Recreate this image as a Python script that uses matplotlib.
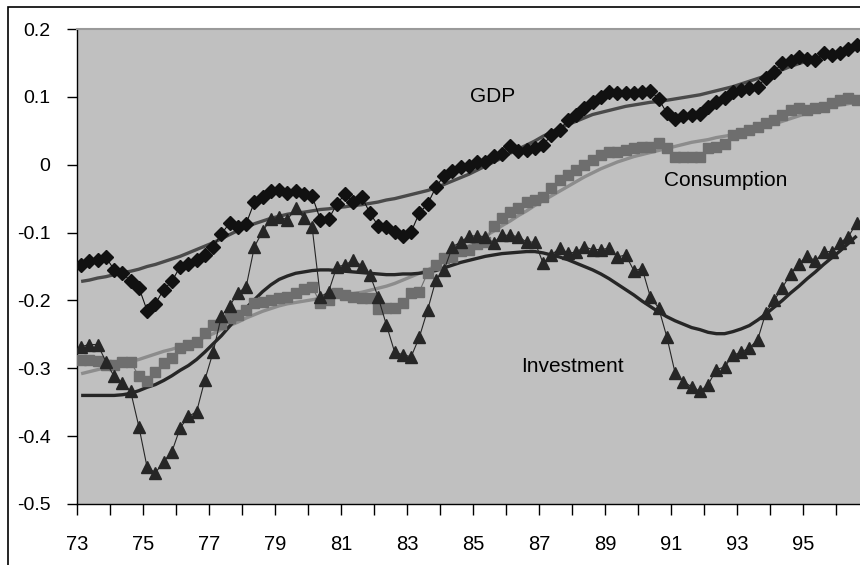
import numpy as np
import matplotlib
matplotlib.use("Agg")
import matplotlib.pyplot as plt
from matplotlib import font_manager
from matplotlib.patches import Rectangle

# ---------------- data ----------------
start_year = 73
n_quarters = 95

gdp = [-0.148, -0.142, -0.140, -0.136, -0.155, -0.159, -0.172, -0.181, -0.215, -0.205,
       -0.184, -0.172, -0.150, -0.146, -0.140, -0.133, -0.121, -0.102, -0.086, -0.092,
       -0.087, -0.055, -0.047, -0.039, -0.037, -0.042, -0.039, -0.043, -0.046, -0.081,
       -0.080, -0.058, -0.043, -0.055, -0.047, -0.071, -0.090, -0.092, -0.099, -0.105,
       -0.099, -0.071, -0.058, -0.033, -0.016, -0.009, -0.003, -0.002, 0.004, 0.004,
       0.013, 0.016, 0.028, 0.020, 0.022, 0.025, 0.029, 0.044, 0.051, 0.066,
       0.073, 0.084, 0.092, 0.100, 0.107, 0.106, 0.106, 0.106, 0.107, 0.109,
       0.097, 0.076, 0.068, 0.072, 0.073, 0.075, 0.085, 0.092, 0.098, 0.107,
       0.110, 0.113, 0.115, 0.128, 0.137, 0.150, 0.153, 0.159, 0.156, 0.154,
       0.165, 0.162, 0.165, 0.171, 0.176]

consumption = [-0.288, -0.288, -0.289, -0.295, -0.295, -0.290, -0.290, -0.312, -0.318, -0.305,
               -0.292, -0.285, -0.270, -0.266, -0.261, -0.248, -0.236, -0.234, -0.226, -0.221,
               -0.214, -0.204, -0.202, -0.199, -0.196, -0.195, -0.189, -0.183, -0.180, -0.204,
               -0.199, -0.189, -0.192, -0.195, -0.196, -0.196, -0.212, -0.211, -0.211, -0.204,
               -0.189, -0.187, -0.159, -0.148, -0.137, -0.136, -0.127, -0.126, -0.117, -0.114,
               -0.090, -0.078, -0.070, -0.064, -0.055, -0.052, -0.047, -0.034, -0.022, -0.015,
               -0.008, 0.000, 0.007, 0.014, 0.019, 0.019, 0.022, 0.025, 0.026, 0.026,
               0.032, 0.025, 0.011, 0.011, 0.011, 0.011, 0.025, 0.026, 0.031, 0.044,
               0.047, 0.051, 0.056, 0.062, 0.066, 0.073, 0.081, 0.084, 0.081, 0.084,
               0.085, 0.091, 0.095, 0.098, 0.095]

investment = [-0.268, -0.265, -0.265, -0.290, -0.312, -0.321, -0.334, -0.386, -0.446, -0.454,
              -0.438, -0.423, -0.388, -0.371, -0.364, -0.317, -0.276, -0.223, -0.208, -0.189,
              -0.180, -0.121, -0.098, -0.080, -0.077, -0.081, -0.064, -0.078, -0.092, -0.195,
              -0.187, -0.150, -0.148, -0.140, -0.149, -0.162, -0.195, -0.236, -0.276, -0.280,
              -0.283, -0.254, -0.214, -0.170, -0.155, -0.121, -0.114, -0.105, -0.105, -0.106,
              -0.115, -0.104, -0.104, -0.106, -0.114, -0.114, -0.145, -0.133, -0.123, -0.130,
              -0.129, -0.121, -0.125, -0.125, -0.123, -0.136, -0.133, -0.156, -0.153, -0.195,
              -0.211, -0.254, -0.307, -0.320, -0.327, -0.334, -0.324, -0.302, -0.298, -0.281,
              -0.276, -0.270, -0.258, -0.218, -0.200, -0.181, -0.161, -0.146, -0.134, -0.142,
              -0.128, -0.128, -0.115, -0.106, -0.086]

gdp_trend = [-0.172, -0.170, -0.167, -0.165, -0.162, -0.159, -0.157, -0.154, -0.150, -0.147,
             -0.143, -0.139, -0.135, -0.130, -0.125, -0.120, -0.115, -0.109, -0.103, -0.097,
             -0.092, -0.087, -0.083, -0.079, -0.076, -0.073, -0.071, -0.070, -0.068, -0.066,
             -0.065, -0.063, -0.062, -0.060, -0.059, -0.057, -0.055, -0.052, -0.050, -0.047,
             -0.044, -0.041, -0.038, -0.034, -0.029, -0.024, -0.019, -0.014, -0.008, -0.002,
             0.004, 0.010, 0.017, 0.023, 0.029, 0.035, 0.042, 0.048, 0.054, 0.059,
             0.064, 0.069, 0.074, 0.077, 0.080, 0.083, 0.086, 0.088, 0.090, 0.092,
             0.093, 0.095, 0.097, 0.099, 0.101, 0.103, 0.106, 0.109, 0.112, 0.115,
             0.119, 0.123, 0.127, 0.131, 0.136, 0.140, 0.145, 0.149, 0.153, 0.157,
             0.160, 0.163, 0.166, 0.169, 0.172]

consumption_trend = [-0.308, -0.305, -0.302, -0.299, -0.296, -0.293, -0.290, -0.287, -0.283, -0.279,
                     -0.275, -0.272, -0.268, -0.264, -0.259, -0.254, -0.249, -0.243, -0.237, -0.232,
                     -0.226, -0.221, -0.216, -0.212, -0.208, -0.205, -0.203, -0.201, -0.199, -0.197,
                     -0.196, -0.194, -0.192, -0.190, -0.188, -0.185, -0.182, -0.179, -0.175, -0.170,
                     -0.165, -0.160, -0.155, -0.149, -0.142, -0.135, -0.128, -0.120, -0.113, -0.105,
                     -0.098, -0.090, -0.083, -0.075, -0.068, -0.060, -0.053, -0.046, -0.039, -0.032,
                     -0.025, -0.018, -0.012, -0.006, -0.001, 0.004, 0.008, 0.012, 0.015, 0.018,
                     0.021, 0.024, 0.027, 0.030, 0.033, 0.035, 0.037, 0.040, 0.042, 0.044,
                     0.047, 0.050, 0.053, 0.056, 0.060, 0.064, 0.068, 0.072, 0.076, 0.080,
                     0.083, 0.086, 0.088, 0.090, 0.092]

investment_trend = [-0.340, -0.340, -0.340, -0.340, -0.340, -0.339, -0.337, -0.333, -0.328, -0.324,
                    -0.318, -0.311, -0.303, -0.296, -0.287, -0.276, -0.264, -0.252, -0.238, -0.224,
                    -0.211, -0.199, -0.187, -0.177, -0.169, -0.164, -0.160, -0.158, -0.156, -0.155,
                    -0.155, -0.156, -0.157, -0.158, -0.159, -0.160, -0.161, -0.162, -0.162, -0.161,
                    -0.161, -0.160, -0.158, -0.156, -0.152, -0.148, -0.144, -0.141, -0.138, -0.135,
                    -0.133, -0.131, -0.130, -0.129, -0.128, -0.128, -0.130, -0.133, -0.136, -0.140,
                    -0.145, -0.150, -0.155, -0.161, -0.168, -0.176, -0.184, -0.192, -0.201, -0.209,
                    -0.217, -0.224, -0.230, -0.235, -0.240, -0.243, -0.247, -0.249, -0.249, -0.246,
                    -0.242, -0.237, -0.229, -0.220, -0.210, -0.200, -0.189, -0.179, -0.168, -0.158,
                    -0.147, -0.137, -0.127, -0.116, -0.105]

year_ticks = list(range(73, 97))
year_labels = [str(y) for y in range(73, 96, 2)]
y_ticks = [-0.5, -0.4, -0.3, -0.2, -0.1, 0.0, 0.1, 0.2]
y_labels = ["-0.5", "-0.4", "-0.3", "-0.2", "-0.1", "0", "0.1", "0.2"]

# ---------------- fonts ----------------
names = {f.name for f in font_manager.fontManager.ttflist}
base_font = "Liberation Sans" if "Liberation Sans" in names else "DejaVu Sans"
plt.rcParams["font.family"] = [base_font, "DejaVu Sans"]

# ---------------- figure ----------------
W, H = 860, 565
fig = plt.figure(figsize=(W / 100, H / 100), dpi=100)
fig.patch.set_facecolor("white")

left, right, top, bottom = 77, 860, 29, 504
ax = fig.add_axes([left / W, 1 - bottom / H, (right - left) / W, (bottom - top) / H])
ax.set_facecolor("#c0c0c0")

x = start_year + (np.arange(n_quarters) + 0.5) / 4.0

# trend lines
ax.plot(x, consumption_trend, color="#8c8c8c", lw=2.4, zorder=2, solid_capstyle="butt")
ax.plot(x, gdp_trend, color="#4a4a4a", lw=2.4, zorder=2, solid_capstyle="butt")
ax.plot(x, investment_trend, color="#262626", lw=2.4, zorder=2, solid_capstyle="butt")

# data series
ax.plot(x, consumption, color="#6e6e6e", lw=0.8, marker="s", ms=7.5,
        mfc="#6e6e6e", mec="#6e6e6e", zorder=3)
ax.plot(x, gdp, color="#111111", lw=0.8, marker="D", ms=7.0,
        mfc="#111111", mec="#111111", zorder=4)
ax.plot(x, investment, color="#262626", lw=0.8, marker="^", ms=8.5,
        mfc="#262626", mec="#262626", zorder=5)

ax.set_xlim(73, 73 + (right - left) / 33.0)
ax.set_ylim(-0.5, 0.2)

ax.set_xticks(list(range(73, 96, 2)))
ax.set_xticklabels(year_labels, fontsize=14.5)
ax.set_xticks(year_ticks, minor=True)
ax.tick_params(axis="x", which="both", direction="out", length=8, width=1, color="black", pad=14)
ax.set_yticks(y_ticks)
ax.set_yticklabels(y_labels, fontsize=14)
ax.tick_params(axis="y", direction="out", length=7, width=1, color="black", pad=12)

for s in ("left", "bottom"):
    ax.spines[s].set_color("black")
    ax.spines[s].set_linewidth(1)
ax.spines["top"].set_color("#9a9a9a")
ax.spines["top"].set_linewidth(1.5)
ax.spines["right"].set_visible(False)

ann_kw = dict(fontsize=15, color="black", ha="center", va="center", zorder=6)
ax.text(85.58, 0.100, "GDP", **ann_kw)
ax.text(92.67, -0.024, "Consumption", **ann_kw)
ax.text(88.0, -0.298, "Investment", **ann_kw)

# outer chart frame (cropped at right and bottom)
fig.patches.append(Rectangle((7.5 / W, -0.1), 1.2, 1.1 - 7.5 / H, transform=fig.transFigure,
                             fill=False, edgecolor="black", lw=1.2, zorder=0))

fig.savefig("out.png", dpi=100, facecolor="white")
